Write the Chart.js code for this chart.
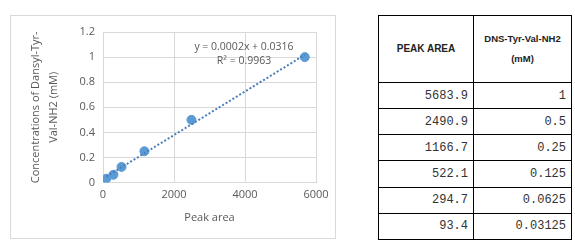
<!DOCTYPE html>
<html>
<head>
<meta charset="utf-8">
<script src="https://cdn.jsdelivr.net/npm/chart.js@4.4.0/dist/chart.umd.min.js"></script>
<style>
  html, body { margin: 0; padding: 0; background: #fff; }
  body { width: 575px; height: 250px; position: relative; overflow: hidden; }
  #chartBox {
    position: absolute; left: 10px; top: 15px; width: 326px; height: 224px;
    border: 1px solid #d9d9d9; box-sizing: border-box;
  }
  #chartBox canvas { display: block; }
  table {
    position: absolute; left: 378px; top: 15px; width: 193px; height: 225px;
    border-collapse: collapse; table-layout: fixed;
  }
  td, th { border: 1px solid #000; padding: 0 5px; }
  th {
    font-family: "Liberation Sans", Arial, sans-serif; font-weight: bold;
    font-size: 10px; color: #222; height: 66px; text-align: center; line-height: 20px;
  }
  th.c2 { font-size: 9.5px; }
  td {
    font-family: "Liberation Mono", monospace; font-size: 12px; color: #333;
    text-align: right; height: 22px;
  }
</style>
</head>
<body>
<div id="chartBox"><canvas id="calib" width="324" height="222"></canvas></div>
<table id="tbl">
  <colgroup><col style="width:95px"><col style="width:98px"></colgroup>
  <thead><tr><th>PEAK AREA</th><th class="c2">DNS-Tyr-Val-NH2<br>(mM)</th></tr></thead>
  <tbody></tbody>
</table>
<script>
// Calibration data (peak area vs concentration)
var peakArea = [5683.9, 2490.9, 1166.7, 522.1, 294.7, 93.4];
var concentration = [1, 0.5, 0.25, 0.125, 0.0625, 0.03125];
var peakAreaText = ['5683.9', '2490.9', '1166.7', '522.1', '294.7', '93.4'];
var concText = ['1', '0.5', '0.25', '0.125', '0.0625', '0.03125'];
var equationLines = ['y = 0.0002x + 0.0316', 'R\u00b2 = 0.9963'];

// fill table
var tbody = document.querySelector('#tbl tbody');
peakAreaText.forEach(function (p, i) {
  var tr = document.createElement('tr');
  tr.innerHTML = '<td>' + p + '</td><td>' + concText[i] + '</td>';
  tbody.appendChild(tr);
});

// least squares fit for the trendline
var n = peakArea.length, sx = 0, sy = 0, sxx = 0, sxy = 0;
for (var i = 0; i < n; i++) {
  sx += peakArea[i]; sy += concentration[i];
  sxx += peakArea[i] * peakArea[i]; sxy += peakArea[i] * concentration[i];
}
var slope = (n * sxy - sx * sy) / (n * sxx - sx * sx);
var intercept = (sy - slope * sx) / n;
var xMin = Math.min.apply(null, peakArea), xMax = Math.max.apply(null, peakArea);
var trend = [{ x: xMin, y: slope * xMin + intercept }, { x: xMax, y: slope * xMax + intercept }];

var points = peakArea.map(function (x, i) { return { x: x, y: concentration[i] }; });

var blue = '#5b9bd5';
var txt = '#595959';
var grid = '#d9d9d9';
var fontFam = '"Open Sans", "Liberation Sans", sans-serif';

// equation label in the upper right of the plot
var equationPlugin = {
  id: 'equation',
  afterDatasetsDraw: function (chart) {
    var ctx = chart.ctx, a = chart.chartArea;
    ctx.save();
    ctx.fillStyle = txt;
    ctx.font = '10.5px ' + fontFam;
    ctx.textAlign = 'center';
    ctx.textBaseline = 'middle';
    ctx.fillText(equationLines[0], a.left + 141, a.top + 15);
    ctx.fillText(equationLines[1], a.left + 141, a.top + 29);
    ctx.restore();
  }
};

new Chart(document.getElementById('calib'), {
  type: 'scatter',
  data: {
    datasets: [{
      data: trend,
      type: 'line',
      showLine: true,
      borderColor: '#4a7fb8',
      borderWidth: 2,
      borderDash: [2, 2],
      pointRadius: 0,
      fill: false
    }, {
      data: points,
      backgroundColor: blue,
      borderColor: blue,
      pointRadius: 4.5,
      pointHoverRadius: 4.5
    }]
  },
  options: {
    responsive: false,
    animation: false,
    layout: { padding: { left: 0, right: 19, top: 16, bottom: 5 } },
    plugins: { legend: { display: false }, tooltip: { enabled: false } },
    scales: {
      x: {
        type: 'linear', min: 0, max: 6000,
        ticks: {
          stepSize: 2000, color: txt, font: { family: fontFam, size: 11 }, padding: 6,
          callback: function (v) { return String(v); }
        },
        grid: { color: grid, drawTicks: false },
        border: { color: grid },
        title: { display: true, text: 'Peak area', color: txt, font: { family: fontFam, size: 11 }, padding: { top: 3, bottom: 9 } }
      },
      y: {
        min: 0, max: 1.2,
        ticks: {
          stepSize: 0.2, color: txt, font: { family: fontFam, size: 11 }, padding: 8,
          callback: function (v) { return String(Math.round(v * 10) / 10); }
        },
        grid: { color: grid, drawTicks: false },
        border: { color: grid },
        title: {
          display: true, text: ['Concentrations of Dansyl-Tyr-', 'Val-NH2 (mM)'],
          color: txt, font: { family: fontFam, size: 11, lineHeight: 1.6 }, padding: { top: 16, bottom: 0 }
        },
        afterFit: function (s) { s.width = 92; }
      }
    }
  },
  plugins: [equationPlugin]
});
</script>
</body>
</html>
